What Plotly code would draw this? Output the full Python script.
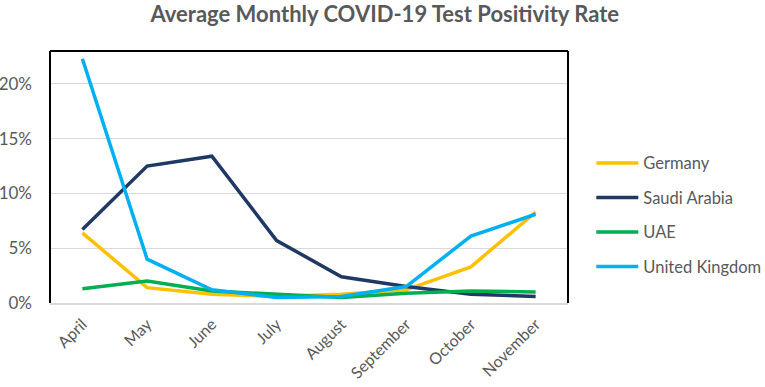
import plotly.graph_objects as go

months = ["April", "May", "June", "July", "August", "September", "October", "November"]
germany = [0.064, 0.014, 0.008, 0.006, 0.008, 0.012, 0.033, 0.083]
saudi = [0.067, 0.125, 0.134, 0.057, 0.024, 0.015, 0.008, 0.006]
uae = [0.013, 0.020, 0.011, 0.008, 0.005, 0.009, 0.011, 0.010]
uk = [0.223, 0.040, 0.012, 0.005, 0.006, 0.015, 0.061, 0.081]

series = [
    ("Germany", germany, "#FFC000"),
    ("Saudi Arabia", saudi, "#1F3864"),
    ("UAE", uae, "#00B050"),
    ("United Kingdom", uk, "#00B0F0"),
]

FONT = "Lato, Open Sans, sans-serif"
fig = go.Figure()
for name, vals, col in series:
    fig.add_trace(go.Scatter(x=months, y=vals, name=name, mode="lines",
                             line=dict(color=col, width=3.5), legendgroup=name))

fig.update_layout(
    width=765, height=387,
    margin=dict(l=50, r=197, t=51, b=84, autoexpand=False),
    paper_bgcolor="white", plot_bgcolor="white",
    font=dict(family=FONT, color="#595959", size=16),
    title=dict(text="<b>Average Monthly COVID-19 Test Positivity Rate</b>",
               x=0.503, xanchor="center", y=0.963, yanchor="middle",
               font=dict(family=FONT, size=22, color="#595959")),
    showlegend=True,
    legend=dict(x=1.045, xanchor="left", y=0.35, yanchor="middle",
                font=dict(family=FONT, size=16.5, color="#595959"),
                tracegroupgap=10, itemwidth=42, bgcolor="rgba(0,0,0,0)"),
    xaxis=dict(showgrid=False, tickangle=-45, showline=True, linecolor="#D9D9D9",
               linewidth=1.5, ticks="", tickfont=dict(size=16, family=FONT, color="#595959"),
               ticklabelstandoff=4,
               range=[-0.5, 7.5], zeroline=False, automargin=False),
    yaxis=dict(range=[0, 0.23], tickvals=[0, 0.05, 0.10, 0.15, 0.20],
               tickformat=".0%", showgrid=True, gridcolor="#D9D9D9", gridwidth=1,
               zeroline=False, ticks="", ticklabelstandoff=17, automargin=False,
               tickfont=dict(size=17, family=FONT, color="#595959")),
)

# plot-area border (left, top, right) in black
for x0, y0, x1, y1 in [(0, 0, 0, 1), (0, 1, 1, 1), (1, 0, 1, 1)]:
    fig.add_shape(type="line", xref="paper", yref="paper", x0=x0, y0=y0, x1=x1, y1=y1,
                  line=dict(color="black", width=2))

fig.write_html("out.html", config={"displayModeBar": False},
               post_script="document.body.style.margin='0';")
